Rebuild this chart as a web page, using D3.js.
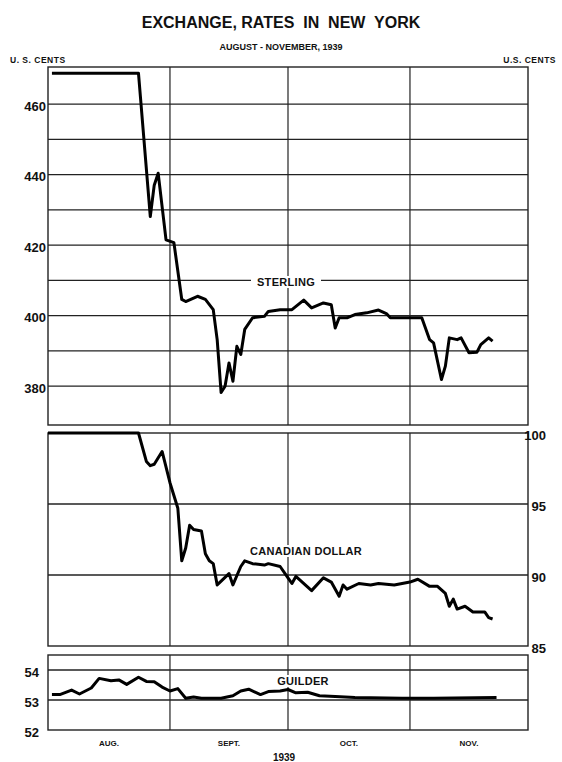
<!DOCTYPE html>
<html>
<head>
<meta charset="utf-8">
<script src="https://cdn.jsdelivr.net/npm/d3@7"></script>
<style>
  body { margin: 0; background: #fff; }
  text { font-family: "Liberation Sans", Arial, sans-serif; font-weight: bold; fill: #111; }
</style>
</head>
<body>
<div id="chart"></div>
<script>
// ---- data ----
var months = ["AUG.", "SEPT.", "OCT.", "NOV."];
var monthStarts = ["1939-08-01", "1939-09-01", "1939-10-01", "1939-11-01", "1939-12-01"];

var sterlingTicks = [380, 400, 420, 440, 460];
var canadianTicks = [85, 90, 95, 100];
var guilderTicks = [52, 53, 54];

var sterlingDates = ["1939-08-02","1939-08-24","1939-08-27","1939-08-28","1939-08-29","1939-08-31",
  "1939-09-02","1939-09-04","1939-09-05","1939-09-08","1939-09-10","1939-09-12","1939-09-13",
  "1939-09-14","1939-09-15","1939-09-16","1939-09-17","1939-09-18","1939-09-19","1939-09-20",
  "1939-09-22","1939-09-25","1939-09-26","1939-09-29","1939-10-02","1939-10-05","1939-10-07",
  "1939-10-10","1939-10-12","1939-10-13","1939-10-14","1939-10-16","1939-10-18","1939-10-21",
  "1939-10-24","1939-10-26","1939-10-27","1939-11-04","1939-11-06","1939-11-07","1939-11-09",
  "1939-11-10","1939-11-11","1939-11-13","1939-11-14","1939-11-16","1939-11-18","1939-11-19",
  "1939-11-21","1939-11-22"];
var sterlingValues = [468.7,468.7,428.1,437,440.4,421.5,
  420.7,404.6,404,405.5,404.6,401.7,393.2,
  378.2,380,386.6,381.4,391.3,389,396.1,
  399.4,399.8,401.2,401.7,401.7,404.4,402.2,
  403.6,403.1,396.5,399.4,399.4,400.3,400.8,
  401.6,400.6,399.4,399.4,393.2,392.3,381.9,
  385.7,393.7,393.2,393.7,389.5,389.6,391.8,
  393.7,392.8];

var canadianDates = ["1939-08-01","1939-08-24","1939-08-26","1939-08-27","1939-08-28","1939-08-30",
  "1939-09-01","1939-09-02","1939-09-03","1939-09-04","1939-09-05","1939-09-06","1939-09-07",
  "1939-09-09","1939-09-10","1939-09-11","1939-09-12","1939-09-13","1939-09-16","1939-09-17",
  "1939-09-19","1939-09-20","1939-09-22","1939-09-25","1939-09-26","1939-09-29","1939-10-01",
  "1939-10-02","1939-10-03","1939-10-07","1939-10-10","1939-10-12","1939-10-14","1939-10-15",
  "1939-10-16","1939-10-19","1939-10-22","1939-10-24","1939-10-28","1939-11-01","1939-11-03",
  "1939-11-06","1939-11-08","1939-11-10","1939-11-11","1939-11-12","1939-11-13","1939-11-15",
  "1939-11-17","1939-11-20","1939-11-21","1939-11-22"];
var canadianValues = [100,100,98,97.7,97.8,98.7,
  96.5,95.6,94.7,91,91.9,93.5,93.2,
  93.1,91.5,91,90.8,89.3,90.1,89.3,
  90.6,91,90.8,90.7,90.8,90.6,89.8,
  89.4,89.9,88.9,89.8,89.5,88.5,89.3,
  89,89.4,89.3,89.4,89.3,89.5,89.7,
  89.2,89.2,88.7,87.8,88.3,87.6,87.8,
  87.4,87.4,87.0,86.9];

var guilderDates = ["1939-08-02","1939-08-04","1939-08-07","1939-08-09","1939-08-12","1939-08-14",
  "1939-08-17","1939-08-19","1939-08-21","1939-08-24","1939-08-26","1939-08-28","1939-08-30",
  "1939-09-01","1939-09-03","1939-09-05","1939-09-07","1939-09-09","1939-09-14","1939-09-17",
  "1939-09-19","1939-09-21","1939-09-24","1939-09-26","1939-09-29","1939-10-01","1939-10-03",
  "1939-10-06","1939-10-09","1939-10-13","1939-10-18","1939-10-30","1939-11-07","1939-11-23"];
var guilderValues = [53.18,53.18,53.33,53.2,53.4,53.72,
  53.64,53.67,53.52,53.76,53.62,53.61,53.43,
  53.3,53.38,53.06,53.1,53.06,53.06,53.14,
  53.3,53.36,53.18,53.28,53.3,53.35,53.24,
  53.26,53.14,53.12,53.08,53.06,53.06,53.08];

// ---- setup ----
var parse = d3.timeParse("%Y-%m-%d");
var svg = d3.select("#chart")
  .append("svg")
    .attr("width", 562)
    .attr("height", 762);

var x = d3.scaleTime()
  .domain([parse(monthStarts[0]), parse(monthStarts[4])])
  .range([48, 528]);

// y scales for the three panels
var ySterling = d3.scaleLinear().domain([369, 470.5]).range([425, 67]);
var yCanadian = d3.scaleLinear().domain([85, 100]).range([646, 433]);
var yGuilder = d3.scaleLinear().domain([52, 54.5]).range([730, 655]);

// titles
svg.append("text").attr("x", 281).attr("y", 28).attr("text-anchor", "middle")
  .style("font-size", "16px")
  .attr("xml:space", "preserve").text("EXCHANGE, RATES  IN  NEW  YORK");
svg.append("text").attr("x", 281).attr("y", 50).attr("text-anchor", "middle")
  .style("font-size", "9px").text("AUGUST - NOVEMBER, 1939");
svg.append("text").attr("x", 10).attr("y", 63)
  .style("font-size", "8.5px").style("letter-spacing", "0.5px").text("U. S.  CENTS");
svg.append("text").attr("x", 556).attr("y", 63).attr("text-anchor", "end")
  .style("font-size", "8.5px").style("letter-spacing", "0.5px").text("U.S.  CENTS");

function drawPanel(y, gridVals) {
  var g = svg.append("g");
  var top = y.range()[1], bottom = y.range()[0];
  // horizontal gridlines
  g.selectAll(".hgrid").data(gridVals).enter().append("line")
    .attr("x1", x.range()[0]).attr("x2", x.range()[1])
    .attr("y1", function(d) { return y(d); })
    .attr("y2", function(d) { return y(d); })
    .style("stroke", "#222").style("stroke-width", 1.3);
  // month lines
  g.selectAll(".vgrid").data(monthStarts.slice(1, 4)).enter().append("line")
    .attr("x1", function(d) { return x(parse(d)); })
    .attr("x2", function(d) { return x(parse(d)); })
    .attr("y1", top).attr("y2", bottom)
    .style("stroke", "#222").style("stroke-width", 1.2);
  // frame
  g.append("rect")
    .attr("x", x.range()[0]).attr("y", top)
    .attr("width", x.range()[1] - x.range()[0]).attr("height", bottom - top)
    .style("fill", "none").style("stroke", "#222").style("stroke-width", 1.4);
  return g;
}

function drawSeries(y, dates, values) {
  var pts = dates.map(function(d, i) { return [parse(d), values[i]]; });
  svg.append("path")
    .datum(pts)
    .attr("d", d3.line()
      .x(function(d) { return x(d[0]); })
      .y(function(d) { return y(d[1]); }))
    .style("fill", "none").style("stroke", "#000")
    .style("stroke-width", 3).style("stroke-linejoin", "round");
}

function seriesLabel(cx, cy, label) {
  var t = svg.append("text").attr("x", cx).attr("y", cy).attr("text-anchor", "middle")
    .style("font-size", "11px").style("letter-spacing", "0.3px").text(label);
  var b = t.node().getBBox();
  svg.insert("rect", function() { return t.node(); })
    .attr("x", b.x - 6).attr("y", b.y).attr("width", b.width + 12).attr("height", b.height)
    .style("fill", "#fff");
}

function valueAxis(y, ticks, xpos) {
  svg.append("g")
    .attr("transform", "translate(" + xpos + ",2)")
    .call(d3.axisLeft(y).tickValues(ticks).tickSize(0).tickPadding(0).tickFormat(d3.format("d")))
    .call(function(g) { g.select(".domain").remove(); })
    .selectAll("text").style("font-size", "13px").style("font-family", null);
}

// sterling panel
drawPanel(ySterling, d3.range(380, 461, 10));
valueAxis(ySterling, sterlingTicks, 46);
seriesLabel(286, 286, "STERLING");
drawSeries(ySterling, sterlingDates, sterlingValues);

// canadian dollar panel
drawPanel(yCanadian, [90, 95]);
valueAxis(yCanadian, canadianTicks, 546);
seriesLabel(306, 555, "CANADIAN DOLLAR");
drawSeries(yCanadian, canadianDates, canadianValues);

// guilder panel
drawPanel(yGuilder, [53, 54]);
valueAxis(yGuilder, guilderTicks, 39);
seriesLabel(303, 685, "GUILDER");
drawSeries(yGuilder, guilderDates, guilderValues);

// month labels
svg.selectAll(".month").data(months).enter().append("text")
  .attr("x", function(d, i) {
    return (x(parse(monthStarts[i])) + x(parse(monthStarts[i + 1]))) / 2;
  })
  .attr("y", 746).attr("text-anchor", "middle")
  .style("font-size", "8px").text(function(d) { return d; });
svg.append("text").attr("x", 284).attr("y", 761).attr("text-anchor", "middle")
  .style("font-size", "10px").text("1939");
</script>
</body>
</html>
